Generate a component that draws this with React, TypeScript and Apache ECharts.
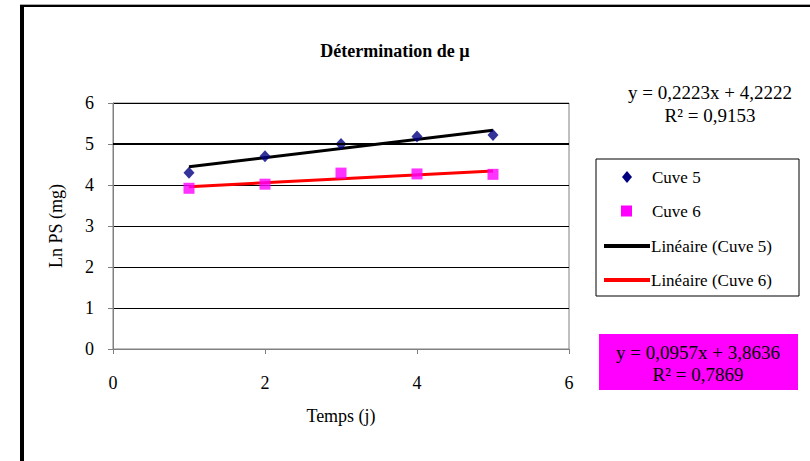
import React, { useEffect, useRef } from "react";
import * as echarts from "echarts";

const days = [1, 2, 3, 4, 5];
const cuve5 = [4.3, 4.7, 5.0, 5.18, 5.22];
const cuve6 = [3.92, 4.02, 4.29, 4.27, 4.26];
const trendX = [1, 5];
const trend5 = [4.4445, 5.3337];
const trend6 = [3.9593, 4.3421];
const xTicks = [0, 2, 4, 6];
const yTicks = [0, 1, 2, 3, 4, 5, 6];
const legendNames = ["Cuve 5", "Cuve 6", "Linéaire (Cuve 5)", "Linéaire (Cuve 6)"];
const eq5 = ["y = 0,2223x + 4,2222", "R² = 0,9153"];
const eq6 = ["y = 0,0957x + 3,8636", "R² = 0,7869"];

const FONT = "Liberation Serif";

export default function App() {
  const ref = useRef<HTMLDivElement>(null);
  useEffect(() => {
    if (!ref.current) return;
    const chart = echarts.init(ref.current, null, { renderer: "svg" });
    const legendY = [177, 211, 246, 280];
    chart.setOption({
      animation: false,
      backgroundColor: "#ffffff",
      textStyle: { fontFamily: FONT },
      title: {
        text: "Détermination de µ",
        left: 390,
        top: 37,
        textAlign: "center",
        textStyle: { fontFamily: FONT, fontSize: 18, fontWeight: "bold", color: "#000" },
      },
      grid: {
        left: 113,
        right: 241,
        top: 103,
        bottom: 112,
        show: true,
        borderColor: "#808080",
        borderWidth: 1,
        backgroundColor: "transparent",
      },
      xAxis: {
        type: "value",
        min: xTicks[0],
        max: xTicks[xTicks.length - 1],
        interval: 2,
        name: "Temps (j)",
        nameLocation: "middle",
        nameGap: 58,
        nameTextStyle: { fontFamily: FONT, fontSize: 18, color: "#000" },
        axisLine: { lineStyle: { color: "#808080", width: 1 } },
        axisTick: { show: true, length: 5, lineStyle: { color: "#808080" } },
        axisLabel: { fontFamily: FONT, fontSize: 18, color: "#000", margin: 25 },
        splitLine: { show: false },
      },
      yAxis: {
        type: "value",
        min: yTicks[0],
        max: yTicks[yTicks.length - 1],
        interval: 1,
        name: "Ln PS (mg)",
        nameLocation: "middle",
        nameGap: 48,
        nameTextStyle: { fontFamily: FONT, fontSize: 18, color: "#000" },
        axisLine: { show: true, lineStyle: { color: "#808080", width: 1 } },
        axisTick: { show: true, length: 5, lineStyle: { color: "#808080" } },
        axisLabel: { fontFamily: FONT, fontSize: 18, color: "#000", margin: 19 },
        splitLine: { show: true, lineStyle: { color: "#000", width: 1 } },
      },
      series: [
        {
          name: legendNames[2],
          type: "line",
          data: trendX.map((x, i) => [x, trend5[i]]),
          showSymbol: false,
          lineStyle: { color: "#000", width: 3 },
          z: 3,
          markLine: {
            silent: true,
            symbol: "none",
            label: { show: false },
            lineStyle: { color: "#000", width: 2, type: "solid" },
            data: [{ yAxis: 5 }],
          },
        },
        {
          name: legendNames[3],
          type: "line",
          data: trendX.map((x, i) => [x, trend6[i]]),
          showSymbol: false,
          lineStyle: { color: "#ff0000", width: 3 },
          z: 3,
        },
        {
          name: legendNames[0],
          type: "scatter",
          data: days.map((d, i) => [d, cuve5[i]]),
          symbol: "diamond",
          symbolSize: [11, 12],
          itemStyle: { color: "#000080" },
          z: 4,
        },
        {
          name: legendNames[1],
          type: "scatter",
          data: days.map((d, i) => [d, cuve6[i]]),
          symbol: "rect",
          symbolSize: 11,
          itemStyle: { color: "#ff00ff" },
          z: 4,
        },
      ],
      graphic: [
        { type: "rect", shape: { x: 20, y: 5, width: 800, height: 2 }, style: { fill: "#000" } },
        { type: "rect", shape: { x: 20, y: 4, width: 800, height: 1 }, style: { fill: "#aaa" } },
        { type: "rect", shape: { x: 20, y: 5, width: 4, height: 470 }, style: { fill: "#000" } },
        {
          type: "text",
          x: 710,
          y: 92,
          style: { text: eq5[0], fontFamily: FONT, fontSize: 19, fill: "#000", align: "center", verticalAlign: "middle" },
        },
        {
          type: "text",
          x: 710,
          y: 115,
          style: { text: eq5[1], fontFamily: FONT, fontSize: 19, fill: "#000", align: "center", verticalAlign: "middle" },
        },
        {
          type: "rect",
          shape: { x: 596, y: 159, width: 203, height: 137 },
          style: { fill: "#fff", stroke: "#000", lineWidth: 1 },
        },
        {
          type: "polygon",
          shape: { points: [[627, legendY[0] - 6], [632, legendY[0]], [627, legendY[0] + 6], [622, legendY[0]]] },
          style: { fill: "#000080" },
        },
        {
          type: "rect",
          shape: { x: 621, y: legendY[1] - 5.5, width: 11, height: 11 },
          style: { fill: "#ff00ff" },
        },
        {
          type: "rect",
          shape: { x: 604, y: legendY[2] - 2, width: 46, height: 4 },
          style: { fill: "#000" },
        },
        {
          type: "rect",
          shape: { x: 604, y: legendY[3] - 2, width: 46, height: 4 },
          style: { fill: "#ff0000" },
        },
        ...legendNames.map((n, i) => ({
          type: "text",
          x: i < 2 ? 652 : 651,
          y: legendY[i],
          style: { text: n, fontFamily: FONT, fontSize: 17, fill: "#000", verticalAlign: "middle" },
        })),
        {
          type: "rect",
          shape: { x: 599, y: 334, width: 199, height: 56 },
          style: { fill: "#ff00ff" },
        },
        {
          type: "text",
          x: 698,
          y: 352,
          style: { text: eq6[0], fontFamily: FONT, fontSize: 19, fill: "#000", align: "center", verticalAlign: "middle" },
        },
        {
          type: "text",
          x: 698,
          y: 374,
          style: { text: eq6[1], fontFamily: FONT, fontSize: 19, fill: "#000", align: "center", verticalAlign: "middle" },
        },
      ],
    });
    return () => chart.dispose();
  }, []);
  return <div ref={ref} style={{ width: 810, height: 461, position: "absolute", left: 0, top: 0 }} />;
}
